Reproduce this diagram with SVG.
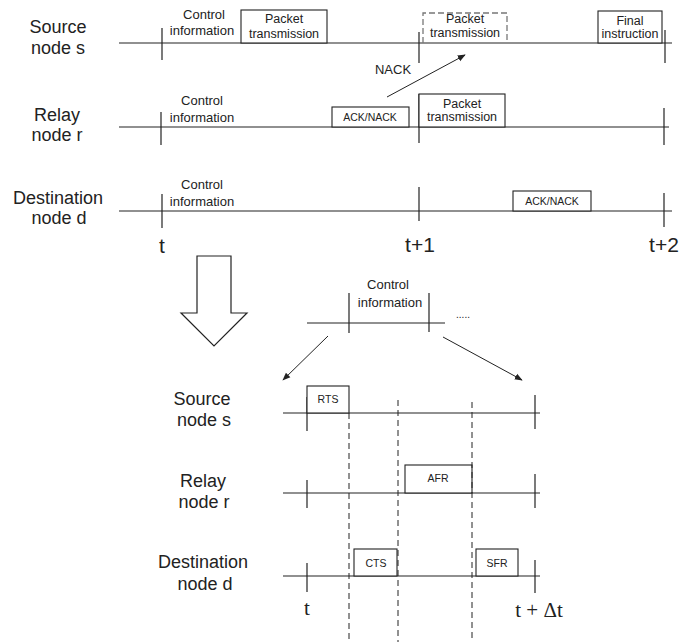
<svg xmlns="http://www.w3.org/2000/svg" width="700" height="642" viewBox="0 0 700 642">
<style>
.ln{stroke:#222;stroke-width:1.2;fill:none}
.tk{stroke:#222;stroke-width:1.2;fill:none}
.bx{stroke:#222;stroke-width:1.1;fill:#fff}
.dbx{stroke:#777;stroke-width:1.3;fill:none;stroke-dasharray:6,3}
.dv{stroke:#222;stroke-width:1;stroke-dasharray:6,4;fill:none}
.lbl{font-family:"Liberation Sans",Arial,sans-serif;font-size:18px;fill:#222;text-anchor:middle}
.ci{font-family:"Liberation Sans",Arial,sans-serif;font-size:13px;fill:#222;text-anchor:middle}
.bt{font-family:"Liberation Sans",Arial,sans-serif;font-size:12.5px;fill:#222;text-anchor:middle}
.sm{font-family:"Liberation Sans",Arial,sans-serif;font-size:10.5px;fill:#222;text-anchor:middle}
.tl{font-family:"Liberation Sans",Arial,sans-serif;font-size:21px;fill:#222;text-anchor:middle}
.ts{font-family:"Liberation Serif","Times New Roman",serif;font-size:21px;fill:#222;text-anchor:middle}
.ar{stroke:#222;stroke-width:1;fill:none}
</style>
<defs>
<marker id="ah" viewBox="0 0 10 10" refX="9" refY="5" markerWidth="8" markerHeight="8" markerUnits="userSpaceOnUse" orient="auto">
<path d="M0,1 L10,5 L0,9 Z" fill="#222"/>
</marker>
</defs>

<!-- Top timelines -->
<g id="top-source">
<text class="lbl" x="58" y="33">Source</text>
<text class="lbl" x="58" y="54">node s</text>
<line class="ln" x1="119" y1="43" x2="672" y2="43"/>
<line class="tk" x1="162" y1="28" x2="162" y2="60"/>
<line class="tk" x1="419" y1="32" x2="419" y2="63"/>
<line class="tk" x1="665" y1="30" x2="665" y2="63"/>
<text class="ci" x="204" y="19">Control</text>
<text class="ci" x="202" y="35">information</text>
<rect class="bx" x="241" y="10" width="86" height="33"/>
<text class="bt" x="284" y="23">Packet</text>
<text class="bt" x="284" y="38">transmission</text>
<path class="dbx" d="M423,43 V13 H507 V43"/>
<text class="bt" x="465" y="23">Packet</text>
<text class="bt" x="465" y="37">transmission</text>
<rect class="bx" x="598" y="11" width="64" height="32"/>
<text class="bt" x="630" y="25">Final</text>
<text class="bt" x="630" y="38">instruction</text>
</g>

<g id="top-relay">
<text class="lbl" x="57" y="121">Relay</text>
<text class="lbl" x="57" y="141">node r</text>
<line class="ln" x1="119" y1="127" x2="669" y2="127"/>
<line class="tk" x1="161" y1="112" x2="161" y2="145"/>
<line class="tk" x1="419" y1="94" x2="419" y2="143"/>
<line class="tk" x1="664" y1="108" x2="664" y2="145"/>
<text class="ci" x="202" y="105">Control</text>
<text class="ci" x="202" y="122">information</text>
<rect class="bx" x="332" y="107" width="77" height="20"/>
<text class="sm" x="370" y="121">ACK/NACK</text>
<rect class="bx" x="419" y="94" width="86" height="33"/>
<text class="bt" x="462" y="108">Packet</text>
<text class="bt" x="462" y="121">transmission</text>
</g>

<g id="top-destination">
<text class="lbl" x="58" y="204">Destination</text>
<text class="lbl" x="59" y="224">node d</text>
<line class="ln" x1="119" y1="211" x2="672" y2="211"/>
<line class="tk" x1="162" y1="194" x2="162" y2="228"/>
<line class="tk" x1="419" y1="187" x2="419" y2="221"/>
<line class="tk" x1="664" y1="193" x2="664" y2="227"/>
<text class="ci" x="202" y="189">Control</text>
<text class="ci" x="202" y="206">information</text>
<rect class="bx" x="513" y="191" width="78" height="20"/>
<text class="sm" x="552" y="205">ACK/NACK</text>
</g>

<g id="top-times">
<text class="tl" x="162" y="253">t</text>
<text class="tl" x="420" y="252">t+1</text>
<text class="tl" x="664" y="252">t+2</text>
</g>

<g id="nack-label">
<text class="ci" x="393" y="74">NACK</text>
</g>

<!-- Big hollow arrow -->
<g id="big-arrow">
<polygon points="197,256 231,256 231,313 247,313 214,346 181,313 197,313" fill="#fff" stroke="#222" stroke-width="1.2"/>
</g>

<!-- Control information detail -->
<g id="control-detail">
<line class="ln" x1="307" y1="323" x2="445" y2="323"/>
<line class="tk" x1="349" y1="293" x2="349" y2="333"/>
<line class="tk" x1="429" y1="293" x2="429" y2="332"/>
<text class="ci" x="388" y="289">Control</text>
<text class="ci" x="390" y="307">information</text>
<text class="ci" x="463" y="318" style="font-size:10px">.....</text>
</g>

<!-- Bottom timelines -->
<g id="bot-source">
<text class="lbl" x="202" y="405">Source</text>
<text class="lbl" x="204" y="426">node s</text>
<line class="ln" x1="283" y1="413" x2="540" y2="413"/>
<line class="tk" x1="307" y1="397" x2="307" y2="431"/>
<line class="tk" x1="535" y1="395" x2="535" y2="429"/>
<rect class="bx" x="307" y="386" width="42" height="27"/>
<text class="sm" x="328" y="403">RTS</text>
</g>

<g id="bot-relay">
<text class="lbl" x="203" y="487">Relay</text>
<text class="lbl" x="204" y="508">node r</text>
<line class="ln" x1="283" y1="493" x2="540" y2="493"/>
<line class="tk" x1="307" y1="480" x2="307" y2="508"/>
<line class="tk" x1="535" y1="474" x2="535" y2="508"/>
<rect class="bx" x="405" y="465" width="67" height="28"/>
<text class="sm" x="438" y="482">AFR</text>
</g>

<g id="bot-destination">
<text class="lbl" x="203" y="568">Destination</text>
<text class="lbl" x="205" y="590">node d</text>
<line class="ln" x1="283" y1="576" x2="540" y2="576"/>
<line class="tk" x1="307" y1="563" x2="307" y2="592"/>
<line class="tk" x1="535" y1="560" x2="535" y2="593"/>
<rect class="bx" x="354" y="549" width="43" height="27"/>
<text class="sm" x="376" y="567">CTS</text>
<rect class="bx" x="476" y="549" width="42" height="27"/>
<text class="sm" x="497" y="567">SFR</text>
</g>

<g id="bot-times">
<text class="ts" x="307" y="615">t</text>
<text class="ts" x="539" y="617">t + Δt</text>
</g>

<!-- Connectors -->
<g id="connectors">
<line class="ar" x1="387" y1="97" x2="465" y2="55" marker-end="url(#ah)"/>
<line class="ar" x1="328" y1="336" x2="283" y2="380" marker-end="url(#ah)"/>
<line class="ar" x1="443" y1="337" x2="522" y2="380" marker-end="url(#ah)"/>
<line class="dv" x1="349" y1="413" x2="349" y2="642"/>
<line class="dv" x1="398" y1="400" x2="398" y2="642"/>
<line class="dv" x1="472" y1="402" x2="472" y2="642"/>
</g>
</svg>
